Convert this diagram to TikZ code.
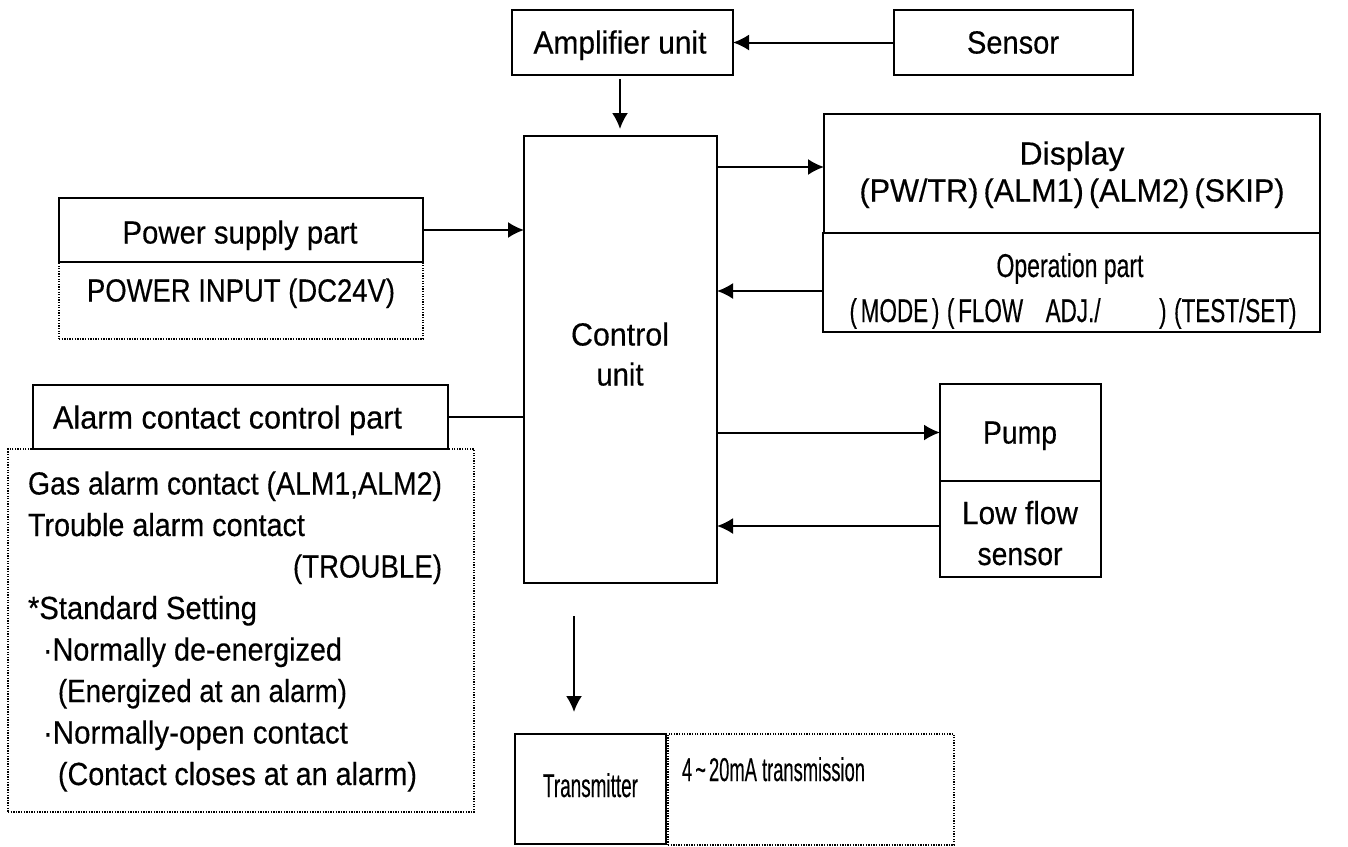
\documentclass[tikz,border=0pt]{standalone}
\usepackage{fontspec}
\setmainfont{Liberation Sans}
\newfontfamily\mfont{Liberation Sans}[BoldFont=Liberation Sans, BoldFeatures={FakeBold=0.4}]
\usepackage{graphicx}
\usetikzlibrary{arrows.meta}
\newcommand{\fitw}[2]{\resizebox{#1}{\height}{#2}}
\begin{document}
\begin{tikzpicture}[x=1pt,y=-1pt,
  box/.style={draw, line width=2pt, inner sep=0pt, outer sep=0pt, anchor=north west},
  dbox/.style={draw, line width=1.3pt, dash pattern=on 1.3pt off 1.3pt, inner sep=0pt, outer sep=0pt, anchor=north west},
  txt/.style={inner sep=0pt, outer sep=0pt, text height=23pt, text depth=0pt, font=\fontsize{32}{38}\mfont\bfseries},
  ctxt/.style={txt, text height=24pt, font=\fontsize{33}{39}\mfont\bfseries},
  arr/.style={line width=2pt, -{Latex[length=16pt,width=16pt]}},
  lin/.style={line width=2pt}]
\useasboundingbox (0,0) rectangle (1348,846);
% dotted boxes
\node[dbox, minimum width=364pt, minimum height=77pt] (powd) at (59,262) {};
\node[dbox, minimum width=466pt, minimum height=363pt] (alarmd) at (8,449) {};
\node[dbox, minimum width=286pt, minimum height=111pt] (txd) at (668,734) {};
% solid boxes
\node[box, minimum width=221pt, minimum height=65pt] (amp) at (512,10) {};
\node[box, minimum width=239pt, minimum height=65pt] (sens) at (894,10) {};
\node[box, minimum width=193pt, minimum height=447pt] (ctrl) at (524,136) {};
\node[box, minimum width=496pt, minimum height=119pt] (disp) at (824,114) {};
\node[box, minimum width=497pt, minimum height=99pt] (op) at (823,233) {};
\node[box, minimum width=364pt, minimum height=64pt] (pow) at (59,198) {};
\node[box, minimum width=415pt, minimum height=64pt] (alarm) at (33,385) {};
\node[box, minimum width=161pt, minimum height=97pt] (pump) at (940,384) {};
\node[box, minimum width=161pt, minimum height=96pt] (low) at (940,481) {};
\node[box, minimum width=151pt, minimum height=110pt] (tx) at (515,734) {};
% texts
\node[txt] (tamp) at (620,42) {\fitw{173pt}{Amplifier unit}};
\node[txt] (tsens) at (1013,42) {\fitw{92pt}{Sensor}};
\node[txt] (tdisp1) at (1072,153) {\fitw{105pt}{Display}};
\node[txt] (tdisp2) at (1072,190) {\fitw{425pt}{(PW/TR)\,(ALM1)\,(ALM2)\,(SKIP)}};
\node[ctxt] (top1) at (1070,265) {\fitw{147pt}{Operation part}};
\node[ctxt] (top2) at (1073,310) {\fitw{447pt}{(\,MODE\,)\,\,(\,FLOW\quad ADJ./\hspace{2.6em})\,\,(TEST/SET)}};
\node[txt] (tctrl1) at (620,334) {\fitw{98pt}{Control}};
\node[txt] (tctrl2) at (620,374) {\fitw{47pt}{unit}};
\node[txt] (tpow) at (240,232) {\fitw{235pt}{Power supply part}};
\node[txt] (tpowd) at (241,290) {\fitw{308pt}{POWER INPUT (DC24V)}};
\node[txt] (talarm) at (227.5,417) {\fitw{349pt}{Alarm contact control part}};
\node[txt, anchor=west] (a1) at (28,483) {\fitw{414pt}{Gas alarm contact (ALM1,ALM2)}};
\node[txt, anchor=west] (a2) at (28,524.5) {\fitw{277pt}{Trouble alarm contact}};
\node[txt, anchor=east] (a3) at (442,566) {\fitw{149pt}{(TROUBLE)}};
\node[txt, anchor=west] (a4) at (28,607.5) {\fitw{229pt}{*Standard Setting}};
\node[txt, anchor=west] (a5) at (43,649) {\fitw{299pt}{·Normally de-energized}};
\node[txt, anchor=west] (a6) at (58,690.5) {\fitw{289pt}{(Energized at an alarm)}};
\node[txt, anchor=west] (a7) at (43,732) {\fitw{305pt}{·Normally-open contact}};
\node[txt, anchor=west] (a8) at (58,773.5) {\fitw{359pt}{(Contact closes at an alarm)}};
\node[txt] (tpump) at (1020,432) {\fitw{74pt}{Pump}};
\node[txt] (tlow1) at (1020,512.5) {\fitw{116pt}{Low flow}};
\node[txt] (tlow2) at (1020,553.5) {\fitw{85pt}{sensor}};
\node[ctxt] (ttx) at (590.5,785) {\fitw{95pt}{Transmitter}};
\node[ctxt, anchor=west] (ttxd) at (682,769) {\fitw{183pt}{4\,\textasciitilde\,20mA transmission}};
% connectors
\draw[arr] (sens.west) -- (amp.east);
\coordinate (adown) at (620,79);
\draw[arr, shorten >=7pt] (adown) -- (adown |- ctrl.north);
\draw[arr] (ctrl.east |- 0,167) -- (disp.west |- 0,167);
\draw[arr] (pow.east) -- (ctrl.west |- pow.east);
\draw[arr] (op.west |- 0,291) -- (ctrl.east |- 0,291);
\draw[lin] (alarm.east) -- (ctrl.west |- alarm.east);
\draw[arr] (ctrl.east |- pump.west) -- (pump.west);
\draw[arr] (low.west |- 0,526) -- (ctrl.east |- 0,526);
\coordinate (tdown) at (574,616);
\draw[arr, shorten >=22pt] (tdown) -- (tdown |- tx.north);
\end{tikzpicture}
\end{document}
